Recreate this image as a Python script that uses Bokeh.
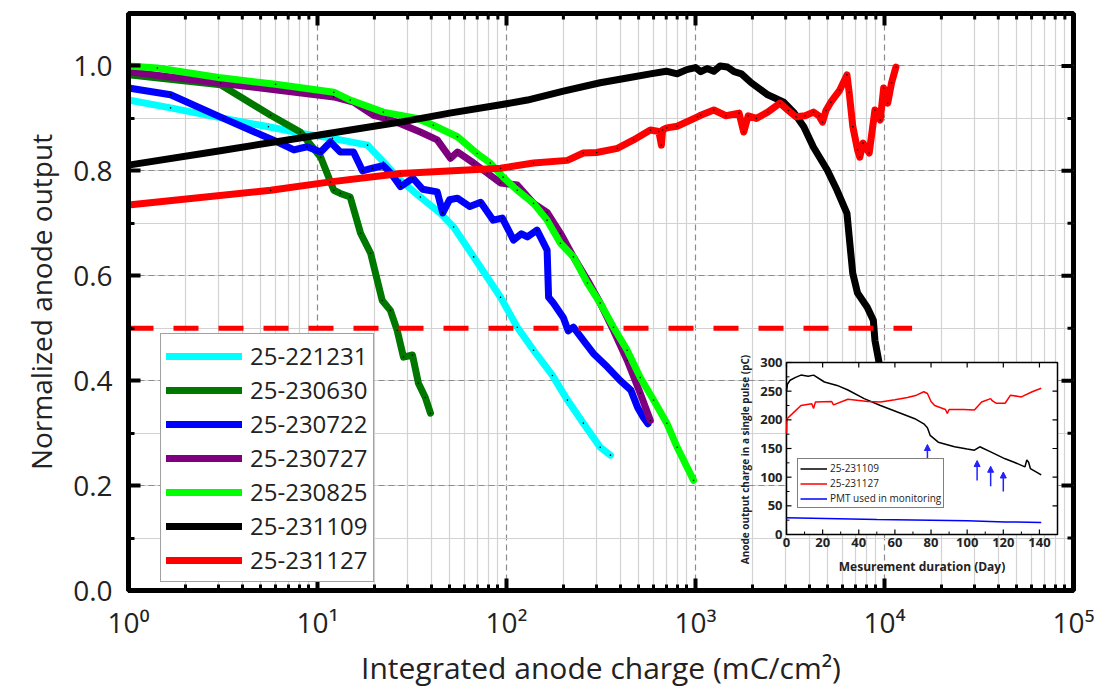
import math
from bokeh.plotting import figure
from bokeh.models import (Range1d, LinearScale, FixedTicker,
                          SingleIntervalTicker, PrintfTickFormatter, CustomJSTickFormatter,
                          Legend, LegendItem, ColumnDataSource, Arrow, NormalHead)
from bokeh.core.properties import value
from bokeh.embed import file_html
from bokeh.resources import INLINE

# ---------------- data: main chart ----------------
series_names = ["25-221231", "25-230630", "25-230722", "25-230727", "25-230825", "25-231109", "25-231127"]
series_colors = ["#00ffff", "#007800", "#0000ff", "#7f007f", "#00ff00", "#000000", "#ff0000"]

cyan_x = [1, 1.67, 3.0, 5.5, 8.1, 12, 18.4, 22.3, 27.5, 35, 44.7, 52.5, 67, 93, 114, 139, 175, 210, 255, 313, 355]
cyan_y = [0.935, 0.92, 0.902, 0.884, 0.872, 0.862, 0.849, 0.817, 0.782, 0.75, 0.719, 0.693, 0.636, 0.559,
          0.502, 0.458, 0.41, 0.363, 0.319, 0.273, 0.258]

dgreen_x = [1, 3.07, 5.65, 8.1, 10.4, 12.2, 13.2, 14.9, 16.9, 19.1, 22.0, 24.3, 26.4, 28.5, 31.8, 34.2, 37.2, 39.6]
dgreen_y = [0.983, 0.964, 0.906, 0.874, 0.826, 0.763, 0.757, 0.75, 0.681, 0.643, 0.553, 0.534, 0.496, 0.445,
            0.449, 0.395, 0.368, 0.338]

blue_x = [1, 1.67, 3.18, 6.15, 7.5, 8.8, 10.4, 11.7, 13.2, 15.5, 17.3, 19.5, 22.3, 24.5, 27.5, 32, 36, 43, 46,
          50, 55, 64, 73, 85, 95, 109, 120, 129, 145, 164, 167, 177, 200, 212, 226, 255, 288, 342, 400, 455,
          494, 530, 560]
blue_y = [0.958, 0.945, 0.90, 0.855, 0.84, 0.846, 0.836, 0.855, 0.836, 0.836, 0.80, 0.805, 0.81, 0.795, 0.77,
          0.786, 0.765, 0.76, 0.72, 0.745, 0.748, 0.732, 0.74, 0.706, 0.71, 0.668, 0.68, 0.674, 0.687, 0.649,
          0.559, 0.548, 0.52, 0.495, 0.502, 0.477, 0.452, 0.426, 0.40, 0.382, 0.349, 0.33, 0.318]

purple_x = [1, 3.07, 12.2, 15.5, 19.8, 23, 27.5, 35, 43, 50.5, 55, 67, 79, 93, 114, 139, 164, 193, 226, 268,
            313, 368, 435, 510, 577]
purple_y = [0.989, 0.967, 0.941, 0.931, 0.906, 0.90, 0.89, 0.874, 0.859, 0.824, 0.836, 0.815, 0.796, 0.777,
            0.773, 0.738, 0.721, 0.681, 0.636, 0.592, 0.548, 0.496, 0.439, 0.376, 0.324]

lgreen_x = [1, 1.42, 3, 6, 12.2, 14.9, 22.3, 33.7, 41, 55, 70, 82, 96, 114, 139, 164, 193, 226, 268, 313, 368,
            435, 510, 600, 705, 800, 977]
lgreen_y = [1.0, 0.996, 0.978, 0.965, 0.95, 0.935, 0.912, 0.90, 0.887, 0.865, 0.833, 0.815, 0.788, 0.763,
            0.738, 0.706, 0.662, 0.636, 0.586, 0.548, 0.502, 0.458, 0.406, 0.363, 0.319, 0.273, 0.21]

black_x = [1, 3, 10, 27.5, 50, 93, 129, 200, 313, 450, 577, 700, 800, 900, 1000, 1066, 1150, 1250, 1350, 1476,
           1600, 1750, 1972, 2410, 2930, 3300, 3740, 4210, 4970, 5610, 6330, 6530, 6790, 7200, 8100, 8730, 8900,
           9300, 9700, 10000]
black_y = [0.811, 0.838, 0.868, 0.893, 0.91, 0.926, 0.935, 0.952, 0.968, 0.978, 0.985, 0.99, 0.985, 0.993,
           0.997, 0.989, 0.995, 0.99, 1.0, 0.998, 0.989, 0.985, 0.968, 0.945, 0.931, 0.912, 0.884, 0.845, 0.802,
           0.763, 0.719, 0.668, 0.605, 0.567, 0.54, 0.515, 0.477, 0.44, 0.40, 0.35]

red_x = [1, 5.65, 11.7, 27.5, 93, 139, 210, 255, 300, 386, 470, 577, 640, 660, 670, 705, 800, 1025, 1066, 1250,
         1450, 1700, 1800, 1900, 2100, 2410, 2800, 3100, 3400, 3800, 4210, 4500, 4700, 4900, 5200, 5800, 6330,
         6500, 6800, 7200, 7400, 7700, 8300, 8900, 9500, 9900, 10400, 10900, 11500]
red_y = [0.735, 0.763, 0.779, 0.795, 0.805, 0.815, 0.82, 0.834, 0.835, 0.843, 0.859, 0.878, 0.875, 0.849, 0.878,
         0.882, 0.885, 0.903, 0.906, 0.916, 0.905, 0.91, 0.874, 0.905, 0.9, 0.912, 0.929, 0.915, 0.903, 0.905,
         0.912, 0.905, 0.893, 0.915, 0.931, 0.954, 0.983, 0.95, 0.884, 0.84, 0.826, 0.853, 0.834, 0.916, 0.897,
         0.958, 0.929, 0.968, 0.998]

threshold_x = [1, 14000]
threshold_y = [0.5, 0.5]

x_ticks = [1, 10, 100, 1000, 10000, 100000]
x_tick_labels = ["10\u2070", "10\u00b9", "10\u00b2", "10\u00b3", "10\u2074", "10\u2075"]

# ---------------- data: inset ----------------
inset_day_range = (0, 150)
inset_val_range = (0, 300)
inset_x_ticks = [0, 20, 40, 60, 80, 100, 120, 140]
inset_y_ticks = [0, 50, 100, 150, 200, 250, 300]

ib_day = [0, 0.5, 2, 5, 8, 12, 15, 21, 28, 34, 43, 52, 61, 71, 76, 78, 79.5, 84, 93, 100, 104, 107, 113, 121,
          126, 132, 133, 134, 135, 141]
ib_val = [250, 262, 269, 274, 278, 276, 278, 266, 260, 252, 237, 225, 214, 202, 193, 186, 173, 161, 153, 149,
          147, 153, 144, 132, 126, 118, 130, 126, 115, 104]

ir_day = [0, 0.3, 3, 8, 14, 15, 16, 25, 26, 34, 45, 52, 60, 67, 72, 76, 78, 80, 82, 88, 89, 90, 95, 98, 104, 108,
          113, 114, 116, 121, 124, 130, 136, 141]
ir_val = [176, 202, 210, 225, 228, 220, 231, 232, 226, 236, 232, 231, 235, 239, 243, 249, 246, 232, 225, 218, 211,
          218, 218, 218, 217, 231, 237, 233, 229, 229, 243, 240, 249, 255]

ipmt_day = [0, 50, 100, 121, 141]
ipmt_val = [29, 26, 24, 22, 21]

arrow_day = [78, 105.5, 113, 120]
arrow_base = [121, 94, 84, 75]
arrow_tip = [157, 129, 119, 109]

# ---------------- layout constants (pixels) ----------------
W, H = 1096, 691
FL, FR, FT, FB = 128, 1073, 13, 590          # main frame
IL, IR, IT, IB = 786, 1057, 362, 534         # inset box

FONT = "Open Sans"
X0, X1 = 1, 1e5
Y0, Y1 = 0, 1.1

p = figure(width=W, height=H, x_axis_type="log",
           x_range=Range1d(X0, X1), y_range=Range1d(Y0, Y1),
           output_backend="svg", toolbar_location=None,
           min_border_left=FL, min_border_right=W - FR, min_border_top=FT, min_border_bottom=H - FB,
           background_fill_color="white", border_fill_color="white")
p.outline_line_color = "black"
p.outline_line_width = 5

minor_x = [m * 10 ** k for k in range(5) for m in range(2, 10)]
xticker = FixedTicker(ticks=x_ticks, minor_ticks=minor_x)
yticker = SingleIntervalTicker(interval=0.2, num_minor_ticks=2)

xfmt = CustomJSTickFormatter(args=dict(tvals=x_ticks, tlabels=x_tick_labels), code="""
const i = tvals.findIndex(t => Math.abs(Math.log10(t) - Math.log10(tick)) < 1e-6);
return i >= 0 ? tlabels[i] : '';
""")

def style_axis(ax):
    ax.axis_line_width = 5
    ax.axis_line_color = "black"
    ax.major_tick_in = 12
    ax.major_tick_out = 0
    ax.major_tick_line_width = 4
    ax.minor_tick_in = 6
    ax.minor_tick_out = 0
    ax.minor_tick_line_width = 3
    ax.major_label_text_font = FONT
    ax.major_label_text_font_size = "28px"
    ax.major_label_text_color = "#222222"
    ax.axis_label_text_font = FONT
    ax.axis_label_text_font_size = "28px"
    ax.axis_label_text_font_style = "normal"
    ax.axis_label_text_color = "#222222"

xa = p.xaxis[0]
xa.ticker = xticker
xa.formatter = xfmt
style_axis(xa)
xa.major_label_standoff = 12
xa.axis_label = "Integrated anode charge (mC/cm\u00b2)"
xa.axis_label_text_font_size = "30px"
xa.axis_label_standoff = 3

ya = p.yaxis[0]
ya.ticker = yticker
ya.formatter = PrintfTickFormatter(format="%.1f")
style_axis(ya)
ya.major_label_standoff = 16
ya.axis_label = "Normalized anode output"
ya.axis_label_standoff = 10

for g in (p.xgrid[0], p.ygrid[0]):
    g.grid_line_color = "#8c8c8c"
    g.grid_line_dash = "6 4"
    g.grid_line_width = 1.2
    g.minor_grid_line_color = "#d2d2d2"
    g.minor_grid_line_width = 1.2

# mirrored inward ticks on the top and right frame edges
px_per_y = (FB - FT) / (Y1 - Y0)
px_per_dec = (FR - FL) / (math.log10(X1) - math.log10(X0))
y_minor = [0.1, 0.3, 0.5, 0.7, 0.9]
y_major = [0.2, 0.4, 0.6, 0.8, 1.0]
p.segment(x0=x_ticks, y0=[Y1] * len(x_ticks), x1=x_ticks, y1=[Y1 - 12 / px_per_y] * len(x_ticks),
          line_color="black", line_width=4)
p.segment(x0=minor_x, y0=[Y1] * len(minor_x), x1=minor_x, y1=[Y1 - 6 / px_per_y] * len(minor_x),
          line_color="black", line_width=3)
p.segment(x0=[X1] * len(y_major), y0=y_major, x1=[X1 / 10 ** (12 / px_per_dec)] * len(y_major), y1=y_major,
          line_color="black", line_width=4)
p.segment(x0=[X1] * len(y_minor), y0=y_minor, x1=[X1 / 10 ** (6 / px_per_dec)] * len(y_minor), y1=y_minor,
          line_color="black", line_width=3)

# ---------------- main curves ----------------
all_x = [cyan_x, dgreen_x, blue_x, purple_x, lgreen_x, black_x, red_x]
all_y = [cyan_y, dgreen_y, blue_y, purple_y, lgreen_y, black_y, red_y]
items = []
for name, col, xs, ys in zip(series_names, series_colors, all_x, all_y):
    r = p.line(xs, ys, line_color=col, line_width=7, line_join="round", line_cap="round")
    p.scatter(xs, ys, size=1.6, fill_color="black", line_color=None)
    items.append(LegendItem(label=name, renderers=[r]))

p.line(threshold_x, threshold_y, line_color="#ff0000", line_width=5, line_dash="25 20")

legend = Legend(items=items, location=(32, 8), label_text_font=FONT, label_text_font_size="24px",
                label_text_color="#222222", glyph_width=76, glyph_height=28, label_height=28,
                spacing=1, padding=5, margin=0, label_standoff=8,
                border_line_color="#444444", border_line_width=1.5,
                background_fill_color="white", background_fill_alpha=1.0)
p.add_layout(legend)

# ---------------- inset (drawn inside the same frame on extra ranges) ----------------
d0, d1 = inset_day_range
v0, v1 = inset_val_range
sx = (IR - IL) / (d1 - d0)
sy = (IB - IT) / (v1 - v0)
p.extra_x_ranges = {"ix": Range1d(d0 - (IL - FL) / sx, d1 + (FR - IR) / sx)}
p.extra_y_ranges = {"iy": Range1d(v0 - (FB - IB) / sy, v1 + (IT - FT) / sy)}
p.extra_x_scales = {"ix": LinearScale()}
p.extra_y_scales = {"iy": LinearScale()}
IN = dict(x_range_name="ix", y_range_name="iy")

p.quad(left=[d0], right=[d1], bottom=[v0], top=[v1], fill_color="white", line_color="black",
       line_width=1.5, **IN)

rb = p.line(ib_day, ib_val, line_color="black", line_width=1.5, **IN)
rr = p.line(ir_day, ir_val, line_color="#ff0000", line_width=1.5, **IN)
rp = p.line(ipmt_day, ipmt_val, line_color="#0000ff", line_width=1.5, **IN)

# inset ticks (inward)
tl = 5
mt = 3
minor_days = [t + 10 for t in inset_x_ticks]
minor_vals = [t + 25 for t in inset_y_ticks[:-1]]
p.segment(x0=inset_x_ticks, y0=[v0] * len(inset_x_ticks), x1=inset_x_ticks,
          y1=[v0 + tl / sy] * len(inset_x_ticks), line_color="black", line_width=1.2, **IN)
p.segment(x0=inset_x_ticks, y0=[v1] * len(inset_x_ticks), x1=inset_x_ticks,
          y1=[v1 - tl / sy] * len(inset_x_ticks), line_color="black", line_width=1.2, **IN)
p.segment(x0=minor_days, y0=[v0] * len(minor_days), x1=minor_days,
          y1=[v0 + mt / sy] * len(minor_days), line_color="black", line_width=1, **IN)
p.segment(x0=[d0] * len(inset_y_ticks), y0=inset_y_ticks, x1=[d0 + tl / sx] * len(inset_y_ticks),
          y1=inset_y_ticks, line_color="black", line_width=1.2, **IN)
p.segment(x0=[d1] * len(inset_y_ticks), y0=inset_y_ticks, x1=[d1 - tl / sx] * len(inset_y_ticks),
          y1=inset_y_ticks, line_color="black", line_width=1.2, **IN)
p.segment(x0=[d0] * len(minor_vals), y0=minor_vals, x1=[d0 + mt / sx] * len(minor_vals),
          y1=minor_vals, line_color="black", line_width=1, **IN)

# inset tick labels
p.text(x=inset_x_ticks, y=[v0 - 3 / sy] * len(inset_x_ticks), text=[str(t) for t in inset_x_ticks],
       text_align="center", text_baseline="top", text_font=value(FONT), text_font_style="bold",
       text_font_size="13px", text_color="#222222", **IN)
p.text(x=[d0 - 4 / sx] * len(inset_y_ticks), y=inset_y_ticks, text=[str(t) for t in inset_y_ticks],
       text_align="right", text_baseline="middle", text_font=value(FONT), text_font_style="bold",
       text_font_size="13px", text_color="#222222", **IN)
p.text(x=[(d0 + d1) / 2], y=[v0 - 32 / sy], text=["Mesurement duration (Day)"],
       text_align="center", text_baseline="middle", text_font=value(FONT), text_font_style="bold",
       text_font_size="12px", text_color="#222222", **IN)
p.text(x=[d0 - 42 / sx], y=[v0 + 75 / sy], text=["Anode output charge in a single pulse (pC)"],
       angle=math.pi / 2, text_align="center", text_baseline="middle", text_font=value(FONT),
       text_font_style="bold", text_font_size="10px", text_color="#222222", **IN)

# inset arrows
asrc = ColumnDataSource(dict(x=arrow_day, y0=arrow_base, y1=arrow_tip))
p.add_layout(Arrow(end=NormalHead(size=6, fill_color="#2222ff", line_color="#2222ff"),
                   x_start="x", y_start="y0", x_end="x", y_end="y1", source=asrc,
                   line_color="#2222ff", line_width=1.5, **IN))

inset_legend = Legend(items=[LegendItem(label="25-231109", renderers=[rb]),
                             LegendItem(label="25-231127", renderers=[rr]),
                             LegendItem(label="PMT used in monitoring", renderers=[rp])],
                      location=(669, 82), label_text_font=FONT, label_text_font_size="10px",
                      label_text_color="#222222", glyph_width=27, glyph_height=11, label_height=11,
                      spacing=1, padding=2, margin=0, label_standoff=3,
                      border_line_color="black", border_line_width=1.5,
                      background_fill_color="white", background_fill_alpha=1.0)
p.add_layout(inset_legend)

open("out.html", "w").write(file_html(p, INLINE))
